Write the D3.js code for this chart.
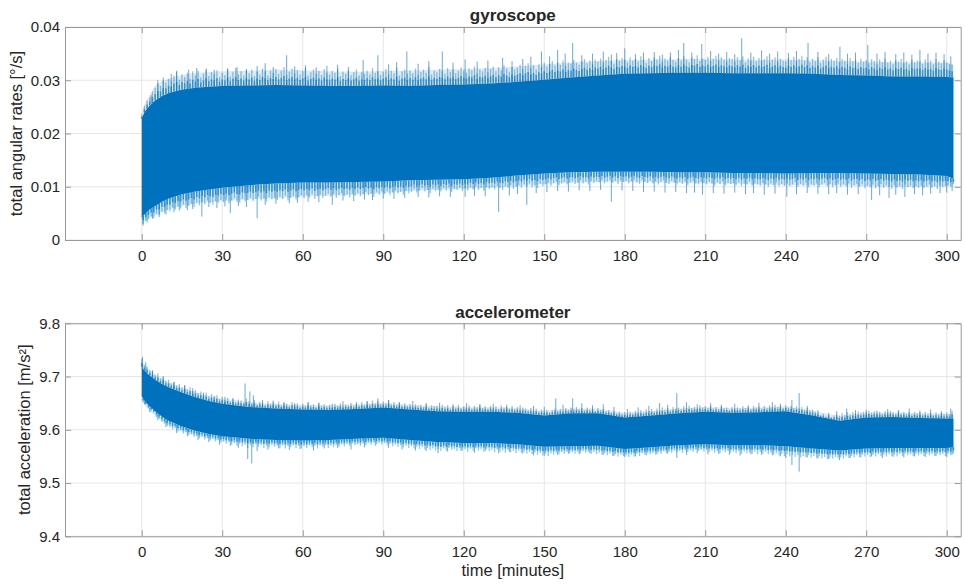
<!DOCTYPE html>
<html><head><meta charset="utf-8">
<script src="https://cdn.jsdelivr.net/npm/d3@7"></script>
<style>
body{margin:0;background:#fff}
text{font-family:"Liberation Sans",Arial,Helvetica,sans-serif;fill:#262626}
</style>
</head><body>
<svg id="chart" width="965" height="586"></svg>
<script>
// ---------------- data ----------------
const timeTicks = [0, 30, 60, 90, 120, 150, 180, 210, 240, 270, 300];
const gyroTicks = [0, 0.01, 0.02, 0.03, 0.04];
const accTicks  = [9.4, 9.5, 9.6, 9.7, 9.8];

// sample times (minutes) of the dense band envelopes
const bandTime = [0,1,2.5,5,7.5,10,15,20,25,30,40,50,60,70,80,90,100,110,120,130,140,150,160,170,180,190,200,210,220,230,240,250,260,270,280,290,300,302.5];
// per-minute sample times of the fringe extremes (0 ... 302 min)
const minuteTime = d3.range(0, 303);

// gyroscope total angular rate [deg/s]
const gyroCoreTop = [0.0228,0.0240,0.0250,0.0262,0.0270,0.0276,0.0282,0.0286,0.0288,0.0289,0.0290,0.0291,0.0290,0.0289,0.0289,0.0290,0.0289,0.0291,0.0292,0.0294,0.0297,0.0301,0.0305,0.0309,0.0312,0.0313,0.0314,0.0314,0.0313,0.0313,0.0313,0.0312,0.0310,0.0309,0.0307,0.0307,0.0306,0.0305];
const gyroCoreBot = [0.0042,0.0048,0.0056,0.0064,0.0072,0.0078,0.0086,0.0091,0.0095,0.0098,0.0103,0.0106,0.0108,0.0108,0.0109,0.0110,0.0112,0.0113,0.0114,0.0117,0.0121,0.0125,0.0127,0.0128,0.0128,0.0128,0.0127,0.0127,0.0126,0.0126,0.0125,0.0126,0.0126,0.0125,0.0124,0.0123,0.0120,0.0115];
const gyroFringeTop = [0.0238,0.0255,0.0268,0.0290,0.0298,0.0303,0.0310,0.0314,0.0316,0.0317,0.0318,0.0320,0.0319,0.0317,0.0316,0.0318,0.0318,0.0320,0.0321,0.0323,0.0326,0.0330,0.0334,0.0336,0.0338,0.0339,0.0340,0.0340,0.0339,0.0338,0.0339,0.0338,0.0336,0.0335,0.0334,0.0334,0.0333,0.0330];
const gyroFringeBot = [0.0030,0.0034,0.0040,0.0046,0.0052,0.0057,0.0064,0.0068,0.0071,0.0073,0.0076,0.0078,0.0081,0.0083,0.0085,0.0088,0.0092,0.0094,0.0096,0.0098,0.0101,0.0105,0.0107,0.0109,0.0109,0.0108,0.0107,0.0106,0.0105,0.0104,0.0103,0.0103,0.0103,0.0101,0.0100,0.0100,0.0101,0.0102];
const gyroMinuteMax = [
.0236,.0252,.0262,.0268,.0279,.0286,.0294,.0289,.0299,.0296,
.0303,.0298,.0309,.0316,.0301,.0311,.0306,.0314,.0303,.0317,
.0309,.0318,.0305,.0312,.0320,.0308,.0315,.0311,.0319,.0306,
.0314,.0310,.0321,.0307,.0316,.0323,.0311,.0317,.0309,.0319,
.0313,.0320,.0308,.0316,.0311,.0322,.0317,.0309,.0318,.0314,
.0321,.0312,.0318,.0325,.0310,.0316,.0322,.0313,.0319,.0311,
.0317,.0323,.0309,.0315,.0320,.0312,.0318,.0310,.0321,.0314,
.0311,.0318,.0314,.0322,.0308,.0316,.0312,.0319,.0310,.0315,
.0320,.0309,.0315,.0312,.0318,.0311,.0323,.0314,.0317,.0310,
.0316,.0321,.0311,.0318,.0313,.0324,.0309,.0317,.0320,.0312,
.0319,.0313,.0322,.0310,.0316,.0320,.0314,.0325,.0311,.0318,
.0315,.0321,.0317,.0312,.0323,.0316,.0320,.0313,.0318,.0324,
.0318,.0314,.0322,.0319,.0326,.0313,.0320,.0317,.0323,.0315,
.0321,.0326,.0317,.0324,.0319,.0328,.0322,.0316,.0325,.0320,
.0324,.0329,.0321,.0327,.0332,.0323,.0328,.0320,.0330,.0325,
.0333,.0326,.0331,.0336,.0328,.0334,.0329,.0337,.0327,.0333,
.0331,.0338,.0333,.0329,.0336,.0340,.0332,.0337,.0330,.0339,
.0335,.0341,.0333,.0338,.0344,.0336,.0331,.0340,.0337,.0342,
.0339,.0334,.0343,.0337,.0341,.0335,.0345,.0338,.0333,.0342,
.0336,.0343,.0339,.0346,.0334,.0341,.0337,.0344,.0338,.0335,
.0342,.0337,.0345,.0339,.0334,.0343,.0340,.0347,.0336,.0341,
.0338,.0344,.0336,.0341,.0346,.0337,.0343,.0339,.0335,.0342,
.0340,.0335,.0343,.0338,.0345,.0334,.0341,.0337,.0344,.0336,
.0342,.0336,.0340,.0345,.0333,.0339,.0343,.0335,.0341,.0337,
.0335,.0342,.0338,.0344,.0336,.0340,.0346,.0337,.0343,.0334,
.0341,.0336,.0343,.0333,.0339,.0344,.0335,.0340,.0337,.0342,
.0334,.0340,.0337,.0331,.0342,.0336,.0339,.0333,.0341,.0335,
.0338,.0332,.0340,.0336,.0330,.0339,.0334,.0341,.0333,.0337,
.0331,.0338,.0335,.0340,.0332,.0336,.0330,.0339,.0334,.0337,
.0336,.0331,.0339,.0333,.0337,.0330,.0340,.0335,.0332,.0338,
.0334,.0331,.0329];
const gyroMinuteMin = [
.0030,.0036,.0039,.0044,.0041,.0049,.0047,.0053,.0050,.0056,
.0054,.0061,.0057,.0063,.0059,.0066,.0060,.0064,.0068,.0062,
.0070,.0065,.0072,.0067,.0074,.0069,.0066,.0073,.0070,.0075,
.0071,.0076,.0069,.0074,.0078,.0072,.0070,.0077,.0073,.0075,
.0079,.0073,.0077,.0081,.0074,.0078,.0072,.0080,.0076,.0079,
.0075,.0081,.0077,.0083,.0074,.0079,.0082,.0076,.0080,.0084,
.0078,.0084,.0080,.0086,.0077,.0082,.0085,.0079,.0083,.0087,
.0081,.0086,.0079,.0084,.0088,.0082,.0085,.0080,.0087,.0083,
.0088,.0082,.0086,.0090,.0084,.0087,.0081,.0089,.0085,.0091,
.0086,.0091,.0084,.0089,.0093,.0087,.0090,.0085,.0092,.0088,
.0090,.0095,.0089,.0093,.0097,.0091,.0094,.0088,.0096,.0092,
.0095,.0091,.0097,.0093,.0099,.0090,.0096,.0094,.0098,.0092,
.0097,.0093,.0099,.0095,.0101,.0094,.0098,.0092,.0100,.0096,
.0099,.0095,.0102,.0097,.0094,.0101,.0098,.0103,.0096,.0100,
.0103,.0098,.0104,.0100,.0106,.0099,.0102,.0097,.0105,.0101,
.0104,.0108,.0102,.0107,.0110,.0103,.0106,.0109,.0104,.0108,
.0110,.0105,.0108,.0112,.0106,.0109,.0104,.0111,.0107,.0110,
.0108,.0112,.0106,.0110,.0113,.0107,.0111,.0105,.0112,.0109,
.0111,.0106,.0110,.0113,.0108,.0105,.0112,.0109,.0107,.0111,
.0106,.0110,.0104,.0109,.0112,.0107,.0105,.0111,.0108,.0104,
.0109,.0105,.0110,.0103,.0108,.0111,.0106,.0104,.0109,.0107,
.0104,.0109,.0106,.0102,.0108,.0105,.0110,.0103,.0107,.0105,
.0107,.0103,.0108,.0101,.0106,.0104,.0109,.0102,.0106,.0104,
.0102,.0107,.0104,.0100,.0106,.0103,.0108,.0101,.0105,.0102,
.0106,.0101,.0104,.0108,.0100,.0105,.0102,.0107,.0099,.0104,
.0102,.0106,.0100,.0104,.0107,.0101,.0105,.0099,.0103,.0106,
.0100,.0104,.0101,.0106,.0098,.0103,.0105,.0100,.0104,.0097,
.0102,.0099,.0104,.0097,.0101,.0105,.0098,.0103,.0100,.0096,
.0103,.0098,.0101,.0096,.0104,.0099,.0102,.0097,.0101,.0098,
.0102,.0097,.0100,.0104,.0098,.0101,.0096,.0103,.0099,.0101,
.0103,.0100,.0105];
const gyroSpikesUp = [[3.5,0.0272],[6,0.0300],[8,0.0305],[11,0.0312],[13,0.0318],[17.5,0.0320],[20.5,0.0323],[24,0.0322],[27,0.0320],[32,0.0322],[35.5,0.0325],[39,0.0321],[43,0.0327],[46,0.0332],[49,0.0325],[54,0.0347],[57,0.0326],[61,0.0328],[65,0.0324],[69,0.0327],[73,0.0329],[77,0.0325],[82.5,0.0338],[88,0.0347],[92,0.0330],[95,0.0334],[98.8,0.0354],[103,0.0331],[107,0.0336],[112,0.0354],[116,0.0333],[120.5,0.0339],[125,0.0335],[129,0.0337],[134.5,0.0342],[138,0.0336],[142,0.0340],[145,0.0344],[149,0.0354],[152,0.0345],[155,0.0357],[157.8,0.0350],[160.6,0.0370],[164,0.0347],[168,0.0350],[172,0.0354],[175,0.0348],[177,0.0351],[180,0.0360],[184,0.0349],[187,0.0352],[191,0.0353],[194,0.0348],[197,0.0352],[200,0.0357],[202,0.0370],[205,0.0352],[208.7,0.0368],[212,0.0355],[215,0.0350],[218,0.0353],[221,0.0349],[223.6,0.0379],[227,0.0352],[231,0.0356],[234,0.0350],[237,0.0354],[241,0.0351],[244,0.0355],[248.3,0.0370],[252,0.0353],[256,0.0349],[260.2,0.0363],[263,0.0350],[266,0.0352],[270.6,0.0366],[274,0.0350],[277,0.0353],[281,0.0349],[284,0.0352],[287,0.0348],[290,0.0357],[293,0.0350],[296,0.0352],[299,0.0349],[301.5,0.0345]];
const gyroSpikesDown = [[0.5,0.0027],[2,0.0033],[4,0.0040],[6.5,0.0043],[9,0.0048],[12,0.0052],[14,0.0055],[17,0.0056],[19,0.0058],[22.4,0.0044],[25,0.0062],[28,0.0060],[31,0.0063],[33,0.0051],[36,0.0064],[39,0.0062],[43,0.0041],[46,0.0066],[50,0.0068],[55,0.0069],[58,0.0070],[62,0.0072],[66,0.0071],[71,0.0066],[75,0.0074],[79,0.0073],[83,0.0076],[86,0.0075],[90,0.0078],[94,0.0077],[98,0.0079],[103,0.0081],[107,0.0080],[111,0.0082],[115,0.0081],[120.5,0.0081],[124,0.0083],[128,0.0082],[133,0.0053],[137,0.0084],[140,0.0086],[143.5,0.0066],[147,0.0088],[151,0.0090],[155,0.0092],[159,0.0091],[163,0.0093],[167,0.0092],[171,0.0094],[175,0.0072],[179,0.0093],[183,0.0092],[187,0.0090],[191,0.0091],[195,0.0089],[199,0.0090],[203,0.0088],[206,0.0089],[209,0.0085],[213,0.0088],[217,0.0087],[221,0.0089],[225,0.0086],[228,0.0088],[232,0.0085],[236,0.0087],[240.4,0.0081],[244,0.0086],[248,0.0088],[252,0.0087],[256,0.0086],[259,0.0088],[263,0.0085],[267,0.0086],[272,0.0075],[275,0.0084],[278.5,0.0079],[281,0.0085],[284.4,0.0081],[288,0.0086],[291,0.0084],[294,0.0087],[297.5,0.0088],[300,0.0089],[302,0.0092]];

// accelerometer total acceleration [m/s^2]
const accCoreTop = [9.718,9.711,9.704,9.694,9.686,9.680,9.670,9.661,9.654,9.649,9.643,9.640,9.638,9.637,9.639,9.642,9.638,9.635,9.634,9.634,9.632,9.627,9.631,9.631,9.623,9.627,9.631,9.634,9.632,9.633,9.635,9.627,9.617,9.623,9.624,9.622,9.621,9.621];
const accCoreBot = [9.663,9.655,9.646,9.635,9.625,9.617,9.606,9.598,9.592,9.588,9.583,9.581,9.580,9.581,9.583,9.585,9.581,9.577,9.575,9.575,9.573,9.568,9.569,9.570,9.564,9.567,9.571,9.573,9.571,9.571,9.569,9.565,9.561,9.565,9.566,9.566,9.566,9.567];
const accFringeTop = [9.728,9.721,9.714,9.704,9.696,9.690,9.680,9.671,9.664,9.659,9.652,9.649,9.647,9.646,9.648,9.651,9.647,9.644,9.643,9.643,9.641,9.636,9.640,9.640,9.632,9.636,9.640,9.643,9.641,9.642,9.644,9.636,9.626,9.632,9.633,9.631,9.630,9.630];
const accFringeBot = [9.655,9.646,9.637,9.626,9.616,9.608,9.597,9.589,9.583,9.579,9.574,9.572,9.571,9.572,9.574,9.576,9.572,9.568,9.566,9.566,9.564,9.559,9.560,9.561,9.555,9.558,9.562,9.564,9.562,9.562,9.560,9.556,9.552,9.556,9.557,9.557,9.557,9.558];
const accMinuteMax = [
9.733,9.722,9.719,9.712,9.709,9.703,9.706,9.697,9.700,9.692,
9.694,9.687,9.690,9.683,9.686,9.679,9.684,9.676,9.680,9.673,
9.675,9.669,9.672,9.666,9.670,9.663,9.667,9.661,9.665,9.658,
9.662,9.656,9.660,9.654,9.658,9.652,9.657,9.655,9.651,9.659,
9.654,9.650,9.656,9.648,9.653,9.651,9.647,9.654,9.649,9.652,
9.648,9.653,9.646,9.651,9.649,9.645,9.652,9.647,9.650,9.644,
9.649,9.645,9.651,9.646,9.648,9.643,9.650,9.645,9.648,9.644,
9.647,9.643,9.649,9.645,9.650,9.644,9.648,9.646,9.651,9.645,
9.649,9.646,9.652,9.647,9.653,9.648,9.655,9.650,9.654,9.649,
9.653,9.650,9.655,9.648,9.652,9.647,9.651,9.646,9.650,9.645,
9.649,9.644,9.648,9.645,9.647,9.643,9.648,9.642,9.646,9.644,
9.645,9.641,9.647,9.643,9.646,9.640,9.645,9.642,9.647,9.641,
9.644,9.641,9.646,9.640,9.645,9.642,9.647,9.641,9.644,9.640,
9.645,9.641,9.644,9.639,9.646,9.642,9.643,9.640,9.645,9.639,
9.643,9.638,9.642,9.640,9.637,9.641,9.636,9.640,9.635,9.638,
9.634,9.638,9.633,9.637,9.640,9.636,9.639,9.635,9.641,9.637,
9.642,9.638,9.643,9.639,9.641,9.637,9.642,9.638,9.640,9.636,
9.641,9.637,9.639,9.635,9.637,9.633,9.635,9.631,9.634,9.630,
9.633,9.629,9.634,9.631,9.636,9.632,9.637,9.633,9.638,9.635,
9.639,9.635,9.640,9.636,9.642,9.638,9.641,9.637,9.643,9.640,
9.642,9.639,9.644,9.640,9.645,9.641,9.643,9.640,9.646,9.642,
9.644,9.641,9.645,9.640,9.643,9.639,9.644,9.641,9.642,9.638,
9.643,9.639,9.642,9.640,9.644,9.641,9.643,9.639,9.645,9.642,
9.644,9.640,9.645,9.641,9.646,9.642,9.647,9.643,9.645,9.641,
9.646,9.642,9.645,9.641,9.644,9.640,9.643,9.638,9.641,9.637,
9.638,9.634,9.631,9.628,9.630,9.625,9.628,9.624,9.627,9.629,
9.627,9.631,9.628,9.633,9.630,9.634,9.631,9.635,9.632,9.634,
9.633,9.636,9.632,9.635,9.631,9.634,9.630,9.635,9.632,9.636,
9.633,9.630,9.635,9.631,9.634,9.630,9.633,9.629,9.634,9.631,
9.633,9.629,9.634,9.630,9.632,9.628,9.633,9.629,9.632,9.630,
9.633,9.629,9.636];
const accMinuteMin = [
9.652,9.647,9.641,9.636,9.632,9.624,9.621,9.615,9.612,9.607,
9.605,9.601,9.604,9.597,9.599,9.593,9.596,9.590,9.592,9.587,
9.589,9.584,9.587,9.582,9.585,9.580,9.583,9.578,9.581,9.576,
9.578,9.574,9.577,9.572,9.575,9.570,9.574,9.569,9.572,9.566,
9.571,9.567,9.573,9.568,9.571,9.566,9.570,9.567,9.572,9.568,
9.570,9.566,9.571,9.565,9.569,9.567,9.571,9.566,9.570,9.565,
9.569,9.566,9.571,9.567,9.570,9.565,9.571,9.568,9.572,9.566,
9.570,9.567,9.572,9.568,9.573,9.569,9.574,9.570,9.575,9.571,
9.573,9.570,9.575,9.571,9.576,9.572,9.577,9.573,9.576,9.572,
9.575,9.571,9.574,9.569,9.572,9.568,9.571,9.567,9.570,9.566,
9.569,9.565,9.568,9.564,9.567,9.563,9.566,9.562,9.565,9.561,
9.564,9.560,9.565,9.561,9.566,9.562,9.564,9.560,9.565,9.561,
9.563,9.559,9.564,9.560,9.565,9.561,9.563,9.559,9.564,9.560,
9.562,9.558,9.563,9.559,9.561,9.557,9.562,9.558,9.560,9.556,
9.561,9.557,9.559,9.555,9.558,9.554,9.557,9.553,9.556,9.552,
9.555,9.551,9.556,9.553,9.557,9.554,9.558,9.555,9.559,9.556,
9.558,9.555,9.559,9.556,9.560,9.557,9.559,9.555,9.558,9.554,
9.557,9.553,9.556,9.552,9.555,9.551,9.554,9.550,9.553,9.551,
9.552,9.549,9.553,9.550,9.555,9.551,9.556,9.553,9.557,9.554,
9.556,9.553,9.558,9.555,9.560,9.556,9.559,9.557,9.561,9.558,
9.560,9.557,9.562,9.558,9.561,9.559,9.563,9.560,9.562,9.559,
9.562,9.558,9.561,9.557,9.560,9.556,9.561,9.558,9.560,9.557,
9.559,9.556,9.560,9.555,9.559,9.556,9.558,9.555,9.559,9.554,
9.558,9.555,9.559,9.554,9.557,9.553,9.556,9.552,9.555,9.551,
9.554,9.550,9.553,9.549,9.552,9.548,9.551,9.549,9.552,9.548,
9.551,9.547,9.550,9.546,9.549,9.545,9.548,9.546,9.549,9.547,
9.548,9.546,9.550,9.547,9.551,9.548,9.552,9.549,9.553,9.550,
9.552,9.549,9.553,9.550,9.554,9.551,9.553,9.550,9.554,9.551,
9.553,9.550,9.554,9.551,9.555,9.552,9.554,9.551,9.555,9.552,
9.554,9.551,9.555,9.552,9.554,9.551,9.555,9.552,9.554,9.551,
9.555,9.552,9.556];
const accSpikesUp = [[0.3,9.737],[1.5,9.727],[4,9.712],[8,9.700],[12,9.690],[16,9.683],[19,9.678],[23,9.670],[27,9.664],[31,9.662],[34,9.660],[38.5,9.687],[40.3,9.672],[41.6,9.665],[45,9.656],[49,9.655],[53,9.652],[57,9.650],[62,9.652],[66,9.651],[71,9.649],[75,9.654],[80,9.652],[84,9.654],[88,9.659],[92,9.656],[96,9.652],[101,9.654],[106,9.650],[111,9.651],[116,9.648],[121,9.650],[126,9.648],[131,9.649],[136,9.647],[141,9.646],[146,9.645],[150,9.643],[154.3,9.659],[157,9.647],[160.6,9.659],[164,9.650],[168,9.646],[172,9.648],[176,9.643],[181,9.639],[185,9.642],[189,9.645],[193,9.650],[196,9.647],[199.4,9.669],[203,9.652],[207,9.648],[212,9.650],[216,9.647],[221,9.649],[226,9.646],[230,9.651],[235,9.652],[238,9.649],[242.3,9.656],[245,9.669],[248,9.645],[252,9.637],[256,9.632],[259,9.635],[262.7,9.640],[266,9.637],[270,9.638],[274,9.636],[278,9.639],[282,9.637],[286,9.640],[290,9.636],[294,9.638],[298,9.635],[301.5,9.640]];
const accSpikesDown = [[1,9.648],[3,9.633],[6,9.618],[9,9.605],[13,9.594],[17,9.588],[21,9.581],[25,9.577],[29,9.572],[33,9.570],[36,9.566],[39.5,9.545],[41,9.537],[43,9.560],[47,9.563],[51,9.565],[55,9.562],[59,9.564],[64,9.561],[68,9.565],[73,9.566],[78,9.563],[83,9.567],[87,9.570],[92,9.566],[97,9.563],[102,9.561],[106,9.560],[110.4,9.556],[114,9.559],[119,9.560],[124,9.557],[128,9.560],[133,9.556],[137,9.558],[142,9.555],[146,9.552],[150,9.551],[155,9.553],[159,9.555],[163,9.554],[167,9.556],[172,9.553],[176,9.551],[180,9.549],[184,9.550],[188,9.552],[192,9.554],[196,9.555],[199.4,9.547],[203,9.553],[207,9.556],[211,9.554],[215,9.555],[219,9.553],[223,9.552],[227,9.554],[231,9.553],[235,9.552],[238,9.550],[240,9.547],[242.3,9.534],[245,9.5215],[248,9.548],[252,9.546],[256,9.545],[260,9.543],[264,9.547],[268,9.548],[272,9.550],[276,9.547],[280,9.549],[284,9.548],[288,9.550],[292,9.549],[296,9.551],[300,9.549],[302,9.553]];

// ---------------- drawing ----------------
const svg = d3.select("#chart");
svg.append("rect").attr("width",965).attr("height",586).attr("fill","#fff");
const BLUE = "#0072BD", AXIS = "#999999", GRID = "#e6e6e6";
const xDomain = [-28.6, 305.2];
const left = 65, right = 960.7;

function panel(o) {
  const x = d3.scaleLinear().domain(xDomain).range([left, right]);
  const y = d3.scaleLinear().domain(o.yDomain).range([o.bottom, o.top]);
  const g = svg.append("g");
  const id = "clip" + o.name;
  svg.append("clipPath").attr("id", id).append("rect")
    .attr("x", left).attr("y", o.top).attr("width", right-left).attr("height", o.bottom-o.top);

  // grid
  g.append("g").selectAll("line").data(timeTicks).join("line")
    .attr("x1", d=>x(d)).attr("x2", d=>x(d)).attr("y1", o.top).attr("y2", o.bottom)
    .attr("stroke", GRID).attr("stroke-width", 1);
  g.append("g").selectAll("line").data(o.yTicks).join("line")
    .attr("x1", left).attr("x2", right).attr("y1", d=>y(d)).attr("y2", d=>y(d))
    .attr("stroke", GRID).attr("stroke-width", 1);

  const data = g.append("g").attr("clip-path", `url(#${id})`);
  const idx = d3.range(bandTime.length);
  const fringe = d3.area().x(i=>x(bandTime[i])).y0(i=>y(o.fringeBot[i])).y1(i=>y(o.fringeTop[i]));
  const core = d3.area().x(i=>x(bandTime[i])).y0(i=>y(o.coreBot[i])).y1(i=>y(o.coreTop[i]));
  data.append("path").attr("d", fringe(idx)).attr("fill", BLUE).attr("fill-opacity", 0.14);
  const topAt = d3.scaleLinear().domain(bandTime).range(o.coreTop);
  const botAt = d3.scaleLinear().domain(bandTime).range(o.coreBot);
  const minute = d3.range(Math.min(minuteTime.length, o.minMax.length));
  const upT = i => minuteTime[i], dnT = i => minuteTime[i] + 0.5;
  // per-minute fringe extremes (full length, light)
  data.append("g").selectAll("line").data(minute).join("line")
    .attr("x1", i=>x(upT(i))).attr("x2", i=>x(upT(i)))
    .attr("y1", i=>y(topAt(upT(i)))).attr("y2", i=>y(o.minMax[i]))
    .attr("stroke", BLUE).attr("stroke-width", 1.3).attr("stroke-opacity", 0.42);
  data.append("g").selectAll("line").data(minute).join("line")
    .attr("x1", i=>x(dnT(i))).attr("x2", i=>x(dnT(i)))
    .attr("y1", i=>y(botAt(dnT(i)))).attr("y2", i=>y(o.minMin[i]))
    .attr("stroke", BLUE).attr("stroke-width", 1.3).attr("stroke-opacity", 0.42);
  // denser overlap near the core: inner half of the same excursions
  data.append("g").selectAll("line").data(minute).join("line")
    .attr("x1", i=>x(upT(i))).attr("x2", i=>x(upT(i)))
    .attr("y1", i=>y(topAt(upT(i)))).attr("y2", i=>(y(topAt(upT(i))) + y(o.minMax[i]))/2)
    .attr("stroke", BLUE).attr("stroke-width", 1.6).attr("stroke-opacity", 0.6);
  data.append("g").selectAll("line").data(minute).join("line")
    .attr("x1", i=>x(dnT(i))).attr("x2", i=>x(dnT(i)))
    .attr("y1", i=>y(botAt(dnT(i)))).attr("y2", i=>(y(botAt(dnT(i))) + y(o.minMin[i]))/2)
    .attr("stroke", BLUE).attr("stroke-width", 1.6).attr("stroke-opacity", 0.6);
  // isolated tall spikes
  data.append("g").selectAll("line").data(o.spikesUp).join("line")
    .attr("x1", d=>x(d[0])).attr("x2", d=>x(d[0]))
    .attr("y1", d=>y(topAt(d[0]))).attr("y2", d=>y(d[1]))
    .attr("stroke", BLUE).attr("stroke-width", 1).attr("stroke-opacity", 0.6);
  data.append("g").selectAll("line").data(o.spikesDown).join("line")
    .attr("x1", d=>x(d[0])).attr("x2", d=>x(d[0]))
    .attr("y1", d=>y(botAt(d[0]))).attr("y2", d=>y(d[1]))
    .attr("stroke", BLUE).attr("stroke-width", 1).attr("stroke-opacity", 0.6);
  data.append("path").attr("d", core(idx)).attr("fill", BLUE);

  // axes (inward ticks on all four sides)
  const style = sel => {
    sel.select(".domain").attr("stroke", AXIS);
    sel.selectAll(".tick line").attr("stroke", AXIS);
    sel.selectAll("text").attr("fill", "#262626").attr("font-size", 15)
      .attr("font-family", '"Liberation Sans", Arial, sans-serif');
  };
  g.append("g").attr("transform", `translate(0,${o.bottom})`)
    .call(d3.axisBottom(x).tickValues(timeTicks).tickFormat(d3.format("d")).tickSizeInner(-6).tickSizeOuter(0).tickPadding(10.5))
    .call(style);
  g.append("g").attr("transform", `translate(0,${o.top})`)
    .call(d3.axisTop(x).tickValues(timeTicks).tickFormat("").tickSizeInner(-6).tickSizeOuter(0))
    .call(style);
  g.append("g").attr("transform", `translate(${left},0)`)
    .call(d3.axisLeft(y).tickValues(o.yTicks).tickFormat(o.fmt).tickSizeInner(-6).tickSizeOuter(0).tickPadding(5))
    .call(style);
  g.append("g").attr("transform", `translate(${right},0)`)
    .call(d3.axisRight(y).tickValues(o.yTicks).tickFormat("").tickSizeInner(-6).tickSizeOuter(0))
    .call(style);

  g.selectAll(".domain").attr("fill", "none");
  g.append("text").attr("x", (left+right)/2).attr("y", o.titleY).attr("text-anchor", "middle")
    .attr("font-size", 17).attr("font-weight", "bold").attr("fill", "#000").text(o.title);
  g.append("text").attr("transform", `translate(${o.labelX},${(o.top+o.bottom)/2}) rotate(-90)`)
    .attr("text-anchor", "middle").attr("font-size", 16.5).text(o.ylabel);
}

panel({name:"g", top:27, bottom:240, yDomain:[0,0.04], yTicks:gyroTicks,
  fmt: d => d===0 ? "0" : d3.format(".2f")(d),
  coreTop:gyroCoreTop, coreBot:gyroCoreBot, fringeTop:gyroFringeTop, fringeBot:gyroFringeBot,
  minMax:gyroMinuteMax, minMin:gyroMinuteMin,
  spikesUp:gyroSpikesUp, spikesDown:gyroSpikesDown,
  title:"gyroscope", titleY:21, ylabel:"total angular rates [°/s]", labelX:22});

panel({name:"a", top:323.3, bottom:536.3, yDomain:[9.4,9.8], yTicks:accTicks,
  fmt: d3.format(".1f"),
  coreTop:accCoreTop, coreBot:accCoreBot, fringeTop:accFringeTop, fringeBot:accFringeBot,
  minMax:accMinuteMax, minMin:accMinuteMin,
  spikesUp:accSpikesUp, spikesDown:accSpikesDown,
  title:"accelerometer", titleY:317.5, ylabel:"total acceleration [m/s²]", labelX:29.5});

svg.append("text").attr("x", (left+right)/2).attr("y", 575.5).attr("text-anchor", "middle")
  .attr("font-size", 16.5).text("time [minutes]");
</script>
</body></html>
